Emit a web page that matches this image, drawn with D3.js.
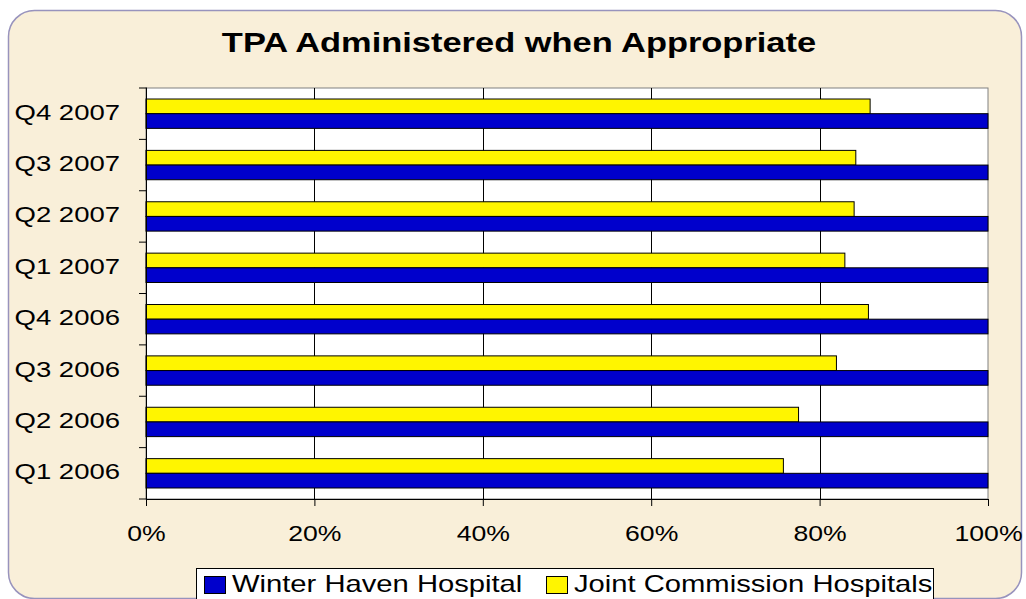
<!DOCTYPE html>
<html>
<head>
<meta charset="utf-8">
<title>TPA Administered when Appropriate</title>
<script src="https://cdn.jsdelivr.net/npm/d3@7"></script>
<style>
  body { margin: 0; background: #ffffff; }
  svg { display: block; }
  text { font-family: "Liberation Sans", Arial, sans-serif; fill: #000; }
</style>
</head>
<body>
<script>

  // chart data, top row first as it is shown
  var categories = ["Q4 2007", "Q3 2007", "Q2 2007", "Q1 2007", "Q4 2006", "Q3 2006", "Q2 2006", "Q1 2006"];
  var winterHaven = [1.00, 1.00, 1.00, 1.00, 1.00, 1.00, 1.00, 1.00];
  var jointCommission = [0.860, 0.843, 0.841, 0.830, 0.858, 0.820, 0.775, 0.757];
  var xTicks = [0, 0.2, 0.4, 0.6, 0.8, 1.0];
  var seriesNames = ["Winter Haven Hospital", "Joint Commission Hospitals"];

  var w = 1026;
  var h = 599;
  var BLUE = "#0000cc";
  var YELLOW = "#fff500";

  var svg = d3.select("body").append("svg")
    .attr("width", w)
    .attr("height", h);

  // text is drawn a bit wider than the font, like the original
  var addText = function(parent, x, y, str, size, sx, anchor, weight) {
    return parent.append("text")
      .attr("transform", "translate(" + x + "," + y + ") scale(" + sx + ",1)")
      .attr("font-size", size)
      .attr("font-weight", weight || "normal")
      .attr("text-anchor", anchor || "start")
      .text(str);
  };

  // background panel
  svg.append("rect")
    .attr("x", 8.5)
    .attr("y", 10.5)
    .attr("width", 1013)
    .attr("height", 588)
    .attr("rx", 26)
    .attr("ry", 26)
    .attr("fill", "#f9efd9")
    .attr("stroke", "#9893bd")
    .attr("stroke-width", 1.5);

  addText(svg, 519, 52, "TPA Administered when Appropriate", 28, 1.23, "middle", "bold");

  var plot = {left: 146, right: 988, top: 88, bottom: 499};

  var x = d3.scaleLinear()
    .domain([0, 1])
    .range([plot.left, plot.right]);

  var y = d3.scaleBand()
    .domain(categories)
    .range([plot.top, plot.bottom]);

  var ySeries = d3.scaleBand()
    .domain(["jc", "whh"])
    .range([0, y.bandwidth()])
    .paddingOuter(0.75);

  // plot area
  svg.append("rect")
    .attr("x", plot.left)
    .attr("y", plot.top)
    .attr("width", plot.right - plot.left)
    .attr("height", plot.bottom - plot.top)
    .attr("fill", "#ffffff")
    .attr("stroke", "#808080")
    .attr("stroke-width", 1);

  // gridlines
  svg.append("g")
    .selectAll("line")
    .data(xTicks.slice(1, -1))
    .enter()
    .append("line")
    .attr("x1", function(d) { return Math.round(x(d)) + 0.5; })
    .attr("x2", function(d) { return Math.round(x(d)) + 0.5; })
    .attr("y1", plot.top)
    .attr("y2", plot.bottom)
    .attr("stroke", "#000")
    .attr("stroke-width", 1);

  var rows = svg.append("g")
    .selectAll("g")
    .data(categories)
    .enter()
    .append("g")
    .attr("transform", function(d) { return "translate(0," + y(d) + ")"; });

  rows.append("rect")
    .attr("x", x(0))
    .attr("y", ySeries("jc"))
    .attr("width", function(d, i) { return x(jointCommission[i]) - x(0); })
    .attr("height", ySeries.bandwidth())
    .attr("fill", YELLOW)
    .attr("stroke", "#000")
    .attr("stroke-width", 1);

  rows.append("rect")
    .attr("x", x(0))
    .attr("y", ySeries("whh"))
    .attr("width", function(d, i) { return x(winterHaven[i]) - x(0); })
    .attr("height", ySeries.bandwidth())
    .attr("fill", BLUE)
    .attr("stroke", "#000")
    .attr("stroke-width", 1);

  // category labels
  rows.each(function(d) {
    addText(d3.select(this), 120, y.bandwidth() / 2 + 6, d, 22, 1.25, "end");
  });

  // y axis line + ticks on band edges
  var yAxis = svg.append("g");
  yAxis.append("line")
    .attr("x1", plot.left + 0.5)
    .attr("x2", plot.left + 0.5)
    .attr("y1", plot.top - 0.5)
    .attr("y2", plot.bottom + 0.5)
    .attr("stroke", "#000");
  yAxis.selectAll("line.tick")
    .data(categories.concat(["end"]))
    .enter()
    .append("line")
    .attr("class", "tick")
    .attr("x1", plot.left - 7)
    .attr("x2", plot.left)
    .attr("y1", function(d) { return d === "end" ? plot.bottom : y(d); })
    .attr("y2", function(d) { return d === "end" ? plot.bottom : y(d); })
    .attr("stroke", "#000");

  // x axis
  var xAxis = svg.append("g")
    .attr("transform", "translate(0," + plot.bottom + ")")
    .call(d3.axisBottom(x)
      .tickValues(xTicks)
      .tickFormat(d3.format(".0%"))
      .tickSize(7)
      .tickSizeOuter(0));
  xAxis.select(".domain").attr("stroke", "#000");
  xAxis.selectAll(".tick line").attr("stroke", "#000");
  xAxis.selectAll(".tick text")
    .attr("x", null)
    .attr("y", null)
    .attr("dy", null)
    .attr("font-family", null)
    .attr("font-size", 22)
    .attr("fill", "#000")
    .attr("transform", "translate(0,42) scale(1.21,1)");

  // legend
  var legend = svg.append("g");
  legend.append("rect")
    .attr("x", 196.5)
    .attr("y", 568.5)
    .attr("width", 737)
    .attr("height", 40)
    .attr("fill", "#ffffff")
    .attr("stroke", "#000");

  var legendItems = [
    {name: seriesNames[0], color: BLUE, x: 204},
    {name: seriesNames[1], color: YELLOW, x: 546}
  ];

  legendItems.forEach(function(item) {
    legend.append("rect")
      .attr("x", item.x + 0.5)
      .attr("y", 576.5)
      .attr("width", 21)
      .attr("height", 17)
      .attr("fill", item.color)
      .attr("stroke", "#000");
    addText(legend, item.x + 28, 592, item.name, 23, 1.27, "start");
  });

</script>
</body>
</html>
